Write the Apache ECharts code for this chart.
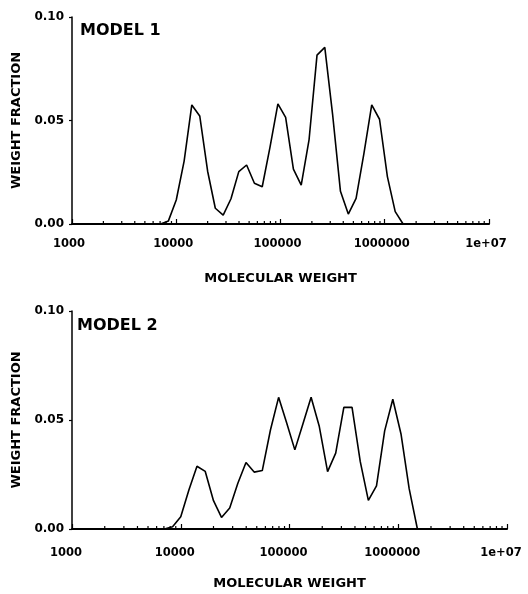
<!DOCTYPE html>
<html>
<head>
<meta charset="utf-8">
<script src="https://cdn.jsdelivr.net/npm/echarts@6/dist/echarts.min.js"></script>
<style>
  html, body { margin: 0; padding: 0; background: #fff; }
  #chart { width: 528px; height: 594px; }
</style>
</head>
<body>
<div id="chart"></div>
<script>
// Molecular weight grid shared by both distributions
const molecularWeight = [7080, 8410, 10000, 11900, 14100, 16800, 20000, 23700, 28200, 33500,
  39800, 47300, 56200, 66800, 79400, 94400, 112000, 133000, 158000, 188000,
  224000, 266000, 316000, 376000, 447000, 531000, 631000, 750000, 891000, 1060000,
  1260000, 1500000];

// Weight fraction, model 1
const model1 = [0, 0.0015, 0.0116, 0.0304, 0.0575, 0.0522, 0.0255, 0.0076, 0.0043, 0.0122,
  0.0253, 0.0285, 0.0197, 0.018, 0.0373, 0.058, 0.0515, 0.0265, 0.0188, 0.0408,
  0.0816, 0.0853, 0.053, 0.0158, 0.0048, 0.0124, 0.034, 0.0575, 0.0506, 0.0229,
  0.006, 0];

// Weight fraction, model 2
const model2 = [0, 0.001, 0.0056, 0.018, 0.0288, 0.0264, 0.013, 0.0053, 0.0096, 0.021,
  0.0305, 0.0261, 0.0268, 0.0454, 0.0604, 0.0485, 0.0363, 0.0483, 0.0604, 0.047,
  0.0263, 0.0348, 0.0558, 0.0558, 0.031, 0.0131, 0.0198, 0.045, 0.0595, 0.0436,
  0.0185, 0];

const xTickLabels = ['1000', '10000', '100000', '1000000', '1e+07'];
const yTickLabels = ['0.00', '0.05', '0.10'];
const panelTitles = ['MODEL 1', 'MODEL 2'];

// log minor ticks: 2..9 within each decade
const minorTicks = [];
for (let d = 1000; d < 1e7; d *= 10) {
  for (let k = 2; k <= 9; k++) minorTicks.push([k * d, 0]);
}

const FONT = 'DejaVu Sans';
const chart = echarts.init(document.getElementById('chart'), null, { renderer: 'canvas' });

function pair(series) {
  return molecularWeight.map((m, i) => [m, series[i]]);
}

// decade value -> its label (1000 -> '1000', 1e7 -> '1e+07')
function decadeLabel(v) {
  const k = Math.round(Math.log10(v)) - 3;
  return xTickLabels[k] !== undefined ? xTickLabels[k] : '';
}

function xAxisFor(gridIndex, labelMargin, padRight) {
  return {
    type: 'log', gridIndex, min: 1000, max: 1e7, logBase: 10,
    axisLine: { lineStyle: { color: '#000', width: 2 } },
    axisTick: { inside: true, length: 5, lineStyle: { color: '#000', width: 1.2 } },
    splitLine: { show: false },
    axisLabel: {
      margin: labelMargin, color: '#000', fontFamily: FONT, fontWeight: 'bold', fontSize: 11.5,
      showMinLabel: true, showMaxLabel: true, padding: [0, padRight, 0, 0],
      formatter: (v) => decadeLabel(v)
    },
    name: 'MOLECULAR WEIGHT', nameLocation: 'middle', nameGap: 48,
    nameTextStyle: { color: '#000', fontFamily: FONT, fontWeight: 'bold', fontSize: 13 }
  };
}

function yAxisFor(gridIndex) {
  return {
    type: 'value', gridIndex, min: 0, max: 0.1, interval: 0.05,
    axisLine: { show: true, lineStyle: { color: '#000', width: 1.5 } },
    axisTick: { show: true, length: 3, lineStyle: { color: '#000', width: 1.2 } },
    splitLine: { show: false },
    axisLabel: {
      margin: 8, color: '#000', fontFamily: FONT, fontWeight: 'bold', fontSize: 12,
      formatter: (v) => yTickLabels[Math.round(v / 0.05)]
    },
    name: 'WEIGHT FRACTION', nameLocation: 'middle', nameGap: 48, nameRotate: 90,
    nameTextStyle: { color: '#000', fontFamily: FONT, fontWeight: 'bold', fontSize: 13 }
  };
}

function lineSeries(idx, values) {
  return {
    type: 'line', xAxisIndex: idx, yAxisIndex: idx, data: pair(values),
    symbol: 'none', smooth: false,
    lineStyle: { color: '#000', width: 1.6 }
  };
}

function tickSeries(idx) {
  return {
    type: 'custom', xAxisIndex: idx, yAxisIndex: idx, data: minorTicks, silent: true,
    clip: false,
    renderItem: (params, api) => {
      const p = api.coord([api.value(0), 0]);
      return {
        type: 'line',
        shape: { x1: p[0], y1: p[1], x2: p[0], y2: p[1] - 3 },
        style: { stroke: '#000', lineWidth: 1.2 }
      };
    }
  };
}

chart.setOption({
  backgroundColor: '#fff',
  animation: false,
  grid: [
    { left: 72, right: 39, top: 17, height: 207 },
    { left: 72, right: 21, top: 311, height: 218 }
  ],
  xAxis: [xAxisFor(0, 14, 6), xAxisFor(1, 18, 12)],
  yAxis: [yAxisFor(0), yAxisFor(1)],
  series: [
    lineSeries(0, model1), lineSeries(1, model2),
    tickSeries(0), tickSeries(1)
  ],
  graphic: [
    { type: 'text', left: 80, top: 23,
      style: { text: panelTitles[0], fill: '#000', font: 'bold 16px "DejaVu Sans"' } },
    { type: 'text', left: 77, top: 318,
      style: { text: panelTitles[1], fill: '#000', font: 'bold 16px "DejaVu Sans"' } }
  ]
});
</script>
</body>
</html>
